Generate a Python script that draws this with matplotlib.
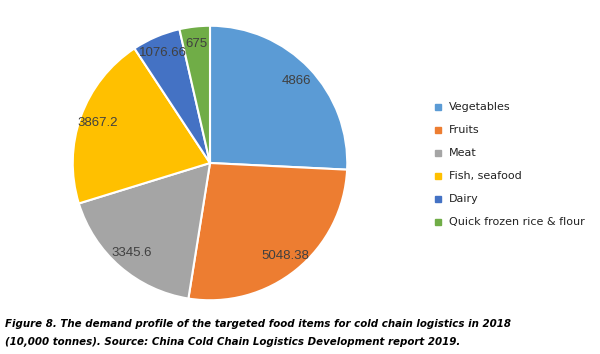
import matplotlib
matplotlib.use("Agg")
import matplotlib.pyplot as plt
from matplotlib.lines import Line2D

categories = ["Vegetables", "Fruits", "Meat", "Fish, seafood", "Dairy", "Quick frozen rice & flour"]
values = [4866, 5048.38, 3345.6, 3867.2, 1076.66, 675]
value_labels = ["4866", "5048.38", "3345.6", "3867.2", "1076.66", "675"]
colors = ["#5B9BD5", "#ED7D31", "#A5A5A5", "#FFC000", "#4472C4", "#70AD47"]

fig = plt.figure(figsize=(6.0, 3.54), dpi=100)
ax = fig.add_axes([70/600, 1-303/354, 280/600, 280/354])
wedges, texts = ax.pie(values, colors=colors, startangle=90, counterclock=False,
                       labels=value_labels, labeldistance=0.87,
                       wedgeprops=dict(edgecolor="white", linewidth=1.5),
                       textprops=dict(color="#404040", fontsize=9.5,
                                      family=["Liberation Sans", "DejaVu Sans"]))
for t in texts:
    t.set_ha("center"); t.set_va("center")
ax.set_xlim(-1.02, 1.02); ax.set_ylim(-1.02, 1.02)
ax.set_aspect("equal")
ax.axis("off")

handles = [Line2D([], [], marker="s", linestyle="none", markersize=5,
                  markerfacecolor=c, markeredgecolor=c) for c in colors]
fig.legend(handles, categories, loc="upper left", bbox_to_anchor=(429/600, 1-98/354),
           frameon=False, fontsize=8, labelspacing=1.17, handlelength=0.8,
           handletextpad=0.6, borderaxespad=0, labelcolor="#222222")

fig.text(5/600, 1-324/354,
         "Figure 8. The demand profile of the targeted food items for cold chain logistics in 2018",
         fontsize=7.4, fontweight="bold", style="italic", va="center", ha="left", color="black")
fig.text(5/600, 1-342/354,
         "(10,000 tonnes). Source: China Cold Chain Logistics Development report 2019.",
         fontsize=7.4, fontweight="bold", style="italic", va="center", ha="left", color="black")

fig.savefig("out.png", dpi=100)
